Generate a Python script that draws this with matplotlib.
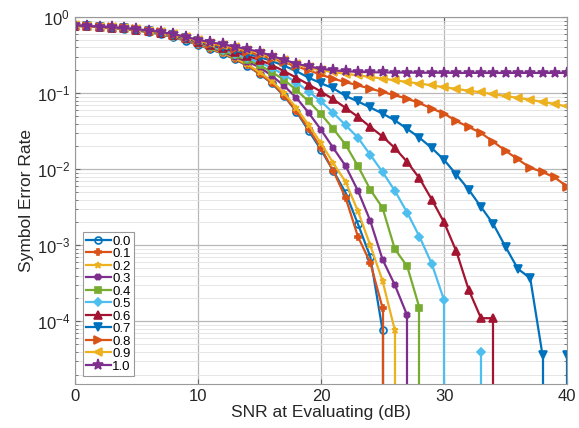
import matplotlib
matplotlib.use("Agg")

import matplotlib.pyplot as plt
import numpy as np


# SNR grid (dB)
SNR = list(range(0, 41))

# symbol error rate per impairment level, 0 means no errors counted
SER_00 = [0.77, 0.76, 0.745, 0.725, 0.70, 0.67, 0.635, 0.595, 0.545, 0.49,
          0.43, 0.38, 0.33, 0.28, 0.23, 0.18, 0.135, 0.092, 0.057, 0.032,
          0.018, 0.0095, 0.0049, 0.0019, 7.1e-4, 7.6e-5] + [0] * 15
SER_01 = [0.77, 0.76, 0.745, 0.726, 0.702, 0.672, 0.638, 0.598, 0.55, 0.495,
          0.435, 0.385, 0.334, 0.283, 0.232, 0.181, 0.137, 0.093, 0.058, 0.034,
          0.019, 0.0095, 0.0042, 0.0013, 5.9e-4, 1.5e-4] + [0] * 15
SER_02 = [0.77, 0.76, 0.746, 0.727, 0.704, 0.675, 0.641, 0.602, 0.555, 0.50,
          0.44, 0.39, 0.34, 0.29, 0.24, 0.19, 0.145, 0.10, 0.064, 0.038,
          0.022, 0.012, 0.0068, 0.0028, 0.001, 3.4e-4, 7.6e-5] + [0] * 14
SER_03 = [0.77, 0.76, 0.746, 0.728, 0.706, 0.678, 0.645, 0.607, 0.56, 0.505,
          0.45, 0.40, 0.35, 0.30, 0.26, 0.22, 0.17, 0.125, 0.087, 0.055,
          0.033, 0.019, 0.011, 0.0052, 0.0021, 6.5e-4, 3.0e-4, 1.2e-4] + [0] * 13
SER_04 = [0.77, 0.762, 0.747, 0.729, 0.707, 0.68, 0.648, 0.611, 0.566, 0.512,
          0.455, 0.41, 0.36, 0.315, 0.275, 0.235, 0.19, 0.15, 0.11, 0.078,
          0.053, 0.034, 0.021, 0.011, 0.0054, 0.0031, 8.9e-4, 5.3e-4, 1.5e-4] + [0] * 12
SER_05 = [0.77, 0.762, 0.748, 0.73, 0.709, 0.683, 0.652, 0.616, 0.572, 0.52,
          0.46, 0.42, 0.375, 0.33, 0.29, 0.255, 0.215, 0.175, 0.138, 0.105,
          0.078, 0.055, 0.038, 0.026, 0.0155, 0.0092, 0.0052, 0.0027, 0.0013, 5.7e-4,
          1.9e-4, 0, 0, 3.9e-5] + [0] * 7
SER_06 = [0.775, 0.763, 0.749, 0.731, 0.711, 0.686, 0.656, 0.621, 0.578, 0.528,
          0.47, 0.43, 0.39, 0.35, 0.31, 0.275, 0.235, 0.195, 0.16, 0.13,
          0.105, 0.083, 0.064, 0.049, 0.036, 0.027, 0.019, 0.0125, 0.0076, 0.004,
          0.002, 8.3e-4, 2.6e-4, 1.1e-4, 1.1e-4] + [0] * 6
SER_07 = [0.775, 0.763, 0.749, 0.732, 0.712, 0.688, 0.66, 0.626, 0.585, 0.535,
          0.48, 0.44, 0.40, 0.365, 0.33, 0.30, 0.265, 0.23, 0.195, 0.16,
          0.135, 0.116, 0.092, 0.078, 0.065, 0.054, 0.044, 0.034, 0.026, 0.019,
          0.0133, 0.0085, 0.0054, 0.0032, 0.0019, 9.5e-4, 4.9e-4, 3.7e-4, 3.6e-5, 0, 3.6e-5]
SER_08 = [0.775, 0.764, 0.75, 0.733, 0.714, 0.69, 0.663, 0.63, 0.59, 0.54,
          0.49, 0.45, 0.415, 0.38, 0.35, 0.32, 0.285, 0.255, 0.225, 0.20,
          0.175, 0.155, 0.14, 0.127, 0.115, 0.104, 0.094, 0.085, 0.074, 0.063,
          0.054, 0.043, 0.036, 0.030, 0.023, 0.0175, 0.0135, 0.0105, 0.0092, 0.0078, 0.0059]
SER_09 = [0.78, 0.765, 0.75, 0.734, 0.715, 0.692, 0.665, 0.633, 0.595, 0.545,
          0.495, 0.46, 0.43, 0.40, 0.37, 0.34, 0.30, 0.27, 0.24, 0.22,
          0.20, 0.19, 0.18, 0.172, 0.164, 0.156, 0.148, 0.141, 0.134, 0.127,
          0.12, 0.114, 0.108, 0.103, 0.097, 0.092, 0.087, 0.082, 0.077, 0.072, 0.067]
SER_10 = [0.78, 0.766, 0.751, 0.735, 0.716, 0.695, 0.668, 0.637, 0.60, 0.55,
          0.505, 0.47, 0.44, 0.41, 0.38, 0.35, 0.31, 0.275, 0.245, 0.225,
          0.21, 0.20, 0.195, 0.191, 0.189, 0.188, 0.187, 0.187, 0.186, 0.186,
          0.186, 0.185, 0.185, 0.185, 0.185, 0.185, 0.185, 0.185, 0.185, 0.185, 0.185]

SERIES = [SER_00, SER_01, SER_02, SER_03, SER_04, SER_05,
          SER_06, SER_07, SER_08, SER_09, SER_10]
LABELS = ["0.0", "0.1", "0.2", "0.3", "0.4", "0.5",
          "0.6", "0.7", "0.8", "0.9", "1.0"]

# matlab default colour order, wraps after 7
COLORS = ["#0072BD", "#D95319", "#EDB120", "#7E2F8E", "#77AC30", "#4DBEEE",
          "#A2142F", "#0072BD", "#D95319", "#EDB120", "#7E2F8E"]
MARKERS = ["o", "P", "*", "X", "s", "D", "^", "v", ">", "<", "*"]
SIZES = [5, 5, 5, 4, 5, 4.5, 6, 6, 6, 6, 8]

Y_BOTTOM = 1.5e-5

plt.rcParams["font.family"] = ["Liberation Sans", "DejaVu Sans"]

fig = plt.figure(figsize=(5.79, 4.28), dpi=100)
ax = fig.add_axes([0.1295, 0.1028, 0.850, 0.857])

x = np.array(SNR, dtype=float)
for vals, lab, col, mk, ms in zip(SERIES, LABELS, COLORS, MARKERS, SIZES):
    y = np.array(vals, dtype=float)
    shown = np.where(y > 0, y, np.nan)
    face = "none" if mk == "o" else col
    ax.plot(x, shown, color=col, lw=1.6, marker=mk, ms=ms,
            mfc=face, mec=col, mew=1.2, label=lab)
    # matlab drops a vertical line where the next/previous value is zero
    for i in range(len(y)):
        if y[i] <= 0:
            continue
        nxt = i + 1 < len(y) and y[i + 1] <= 0
        prv = i > 0 and y[i - 1] <= 0
        if nxt or prv:
            ax.plot([x[i], x[i]], [1e-7, y[i]], color=col, lw=1.6)

ax.set_yscale("log")
ax.set_xlim(0, 40)
ax.set_ylim(Y_BOTTOM, 1)
ax.set_xticks([0, 10, 20, 30, 40])
ax.set_yticks([1e-4, 1e-3, 1e-2, 1e-1, 1])

ax.grid(True, which="major", color="#b8b8b8", lw=0.9)
ax.grid(True, which="minor", axis="y", color="#e2e2e2", lw=0.6)
ax.tick_params(which="both", direction="in", top=True, right=True,
               colors="#666666", labelcolor="#262626", labelsize=12)
ax.tick_params(axis="x", which="minor", bottom=False, top=False)
for sp in ax.spines.values():
    sp.set_color("#999999")

ax.set_xlabel("SNR at Evaluating (dB)", fontsize=12.5, color="#262626", labelpad=1)
ax.set_ylabel("Symbol Error Rate", fontsize=12.5, color="#262626", labelpad=2)

leg = ax.legend(loc="lower left", bbox_to_anchor=(0.01, 0.015), fontsize=9.5,
                handlelength=1.9, handletextpad=0.1, labelspacing=0.02,
                borderpad=0.25, borderaxespad=0.2, fancybox=False, framealpha=1)
leg.get_frame().set_edgecolor("#999999")
leg.get_frame().set_linewidth(0.8)

fig.savefig("out.png", dpi=100)
